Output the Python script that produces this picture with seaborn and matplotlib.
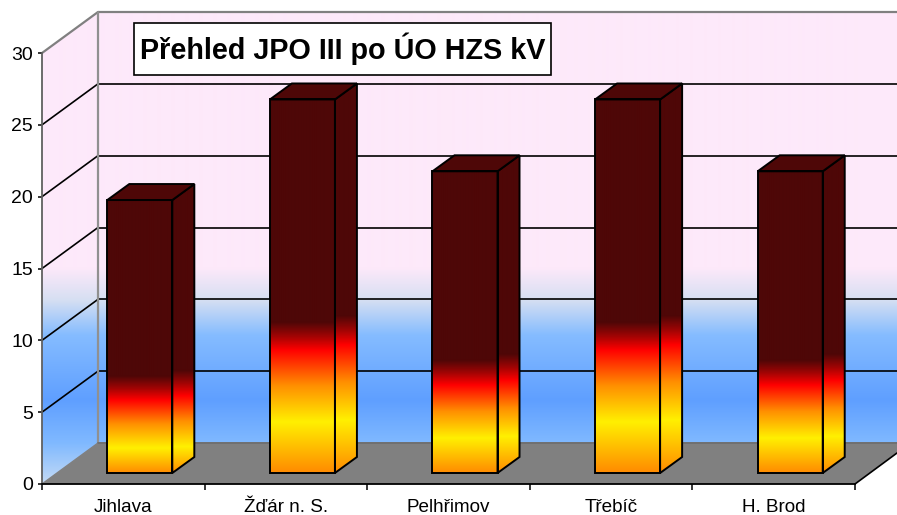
import numpy as np
import pandas as pd
import matplotlib
matplotlib.use("Agg")
import matplotlib.pyplot as plt
from matplotlib.colors import to_rgb
from matplotlib.patches import Polygon, Rectangle
from matplotlib.lines import Line2D
from matplotlib.transforms import IdentityTransform, Affine2D
import seaborn as sns

categories = ["Jihlava", "Žďár n. S.", "Pelhřimov", "Třebíč", "H. Brod"]
values = [19, 26, 21, 26, 21]
y_ticks = [0, 5, 10, 15, 20, 25, 30]
title_text = "Přehled JPO III po ÚO HZS kV"

# gradient stops of each bar, height above the bar foot in pixels: yellow, red, dark
grad_stops = {19: (25, 73, 97), 21: (35, 88, 113), 26: (51, 123, 151)}
MAROON = "#4E0707"
W, H = 897, 515

sns.set_theme(style="white")
plt.rcParams["font.family"] = ["Liberation Sans", "DejaVu Sans"]

fig = plt.figure(figsize=(W / 100, H / 100), dpi=100, facecolor="white")
ax = fig.add_axes([42 / W, (H - 484) / H, 813 / W, 431 / H])
ax.patch.set_visible(False)
df = pd.DataFrame({"unit": categories, "count": values})
sns.barplot(data=df, x="unit", y="count", width=0.4, color=MAROON, ax=ax,
            saturation=1, zorder=3)
ax.set_autoscale_on(False)
ax.set_xlim(-0.5, 4.5)
ax.set_ylim(0, 30)
ax.set_xlabel("")
ax.set_ylabel("")
ID = IdentityTransform()


def D(x, y):
    """image pixel -> display"""
    return (x, H - y)


def poly(pts, **kw):
    p = Polygon([D(*q) for q in pts], closed=True, transform=ID, clip_on=False, **kw)
    ax.add_patch(p)
    return p


def line(p, q, **kw):
    ax.add_line(Line2D([p[0], q[0]], [H - p[1], H - q[1]], transform=ID, clip_on=False, **kw))


def ramp(ys, cols, n=H):
    rows = np.arange(n) + 0.5
    rgb = np.array([to_rgb(c) for c in cols])
    return np.stack([np.interp(rows, ys, rgb[:, i]) for i in range(3)], axis=1)[:, None, :]


# walls
wall_pts = [(42, 484), (42, 53), (98, 12), (W, 12), (W, 443), (98, 443)]
wall = ax.imshow(
    ramp([0, 268, 300, 335, 400, 443, 484, 515],
         ["#FDE9FA", "#FDE9FA", "#D6DFF2", "#85BCFF", "#5F9FFF", "#80B9FF", "#C5DBF5", "#C5DBF5"]),
    extent=(0, W, 0, H), origin="upper", aspect="auto", transform=ID, zorder=0.1,
    interpolation="bilinear")
wall_clip = Polygon([D(*q) for q in wall_pts], closed=True, transform=ID)
wall.set_clip_path(wall_clip)
wall.set_clip_box(fig.bbox)

# floor
poly([(42, 484), (98, 443), (W, 443), (W, 453), (855, 484)], facecolor="#808080",
     edgecolor="none", zorder=0.2)
line((855, 484), (W, 453), color="black", lw=1.2, zorder=0.5)

# gridlines
for v in y_ticks[1:-1]:
    _, yd = ax.transData.transform((0, v))
    y = H - yd
    line((42, y), (98, y - 41), color="black", lw=1.2, zorder=0.4)
    line((98, y - 41), (W, y - 41), color="black", lw=1.2, zorder=0.4)
line((42, 53), (98, 12), color="#808080", lw=1.6, zorder=0.4)
line((98, 12), (W, 12), color="#808080", lw=1.6, zorder=0.4)
line((98, 12), (98, 443), color="#909090", lw=1.6, zorder=0.45)
line((98, 443), (W, 443), color="#707070", lw=1.4, zorder=0.45)
line((42, 484), (98, 443), color="#808080", lw=1.0, zorder=0.4)

# bars: seaborn's rectangles moved to the front plane of the 3-D box
shift = ax.transData + Affine2D().translate(16.5, 11)
DX, DY = 22, 16
for bar, val in zip(ax.patches, values):
    bx, by = bar.get_x(), bar.get_y()
    bw, bh = bar.get_width(), bar.get_height()
    (x0, y0), (x1, y1) = shift.transform([(bx, by), (bx + bw, by + bh)])
    yel, red, dark = grad_stops[val]
    stops = [0, yel, (yel + red) / 2, red, (red + dark) / 2, dark, 1000]
    cols = ["#FF8A00", "#FFF000", "#FF9000", "#FF0000", "#A00404", MAROON, MAROON]
    # stops count upward from the foot
    n = int(round(y1 - y0))
    arr = ramp(stops, cols, n)[::-1]
    front = ax.imshow(arr, extent=(x0, x1, y0, y1), origin="upper", aspect="auto",
                      transform=ID, zorder=2.8, interpolation="bilinear")
    front.set_clip_box(fig.bbox)
    # side face: same gradient, stretched over the box height
    scale = (n + DY) / n
    arr2 = ramp([s * scale for s in stops], cols, n + DY)[::-1]
    side = ax.imshow(arr2, extent=(x1, x1 + DX, y0, y1 + DY), origin="upper", aspect="auto",
                     transform=ID, zorder=2.8, interpolation="bilinear")
    side_poly = Polygon([(x1, y0), (x1 + DX, y0 + DY), (x1 + DX, y1 + DY), (x1, y1)],
                        closed=True, transform=ID)
    side.set_clip_path(side_poly)
    side.set_clip_box(fig.bbox)
    ax.add_patch(Polygon(side_poly.get_xy(), closed=True, transform=ID, facecolor="none",
                         edgecolor="black", lw=1.4, clip_on=False, zorder=3.2))
    ax.add_patch(Polygon([(x0, y1), (x0 + DX, y1 + DY), (x1 + DX, y1 + DY), (x1, y1)],
                         closed=True, transform=ID, facecolor=MAROON, edgecolor="black",
                         lw=1.4, clip_on=False, zorder=3.2))
    bar.set_transform(shift)
    bar.set_facecolor("none")
    bar.set_edgecolor("black")
    bar.set_linewidth(1.4)
    bar.set_clip_on(False)
    bar.set_zorder(3.3)

# axes
sns.despine(ax=ax, top=True, right=True)
ax.spines["left"].set_color("#606060")
ax.spines["left"].set_linewidth(1.3)
ax.spines["bottom"].set_color("black")
ax.spines["bottom"].set_linewidth(1.3)
ax.set_yticks(y_ticks)
ax.tick_params(axis="y", length=3, width=1.1, color="black", labelsize=14, pad=3.5,
               left=True, labelcolor="black")
ax.set_xticks(range(len(categories)))
ax.set_xticklabels(categories)
ax.set_xticks(np.arange(len(categories) + 1) - 0.5, minor=True)
ax.tick_params(axis="x", which="major", length=0, labelsize=13.6, pad=10.5, labelcolor="black")
ax.tick_params(axis="x", which="minor", length=4.3, width=1.1, color="black", bottom=True)
ax.grid(False)

# title box
ax.add_patch(Rectangle(D(134, 75), 417, 52, transform=ID, facecolor="white",
                       edgecolor="black", lw=1.2, clip_on=False, zorder=5))
ax.set_title(title_text, x=(342.5 - 42) / 813, y=(484 - 49) / 431, va="center", ha="center",
             fontsize=20.7, fontweight="bold", color="black", pad=0)
ax.title.set_zorder(6)

fig.savefig("out.png", dpi=100, facecolor="white")
